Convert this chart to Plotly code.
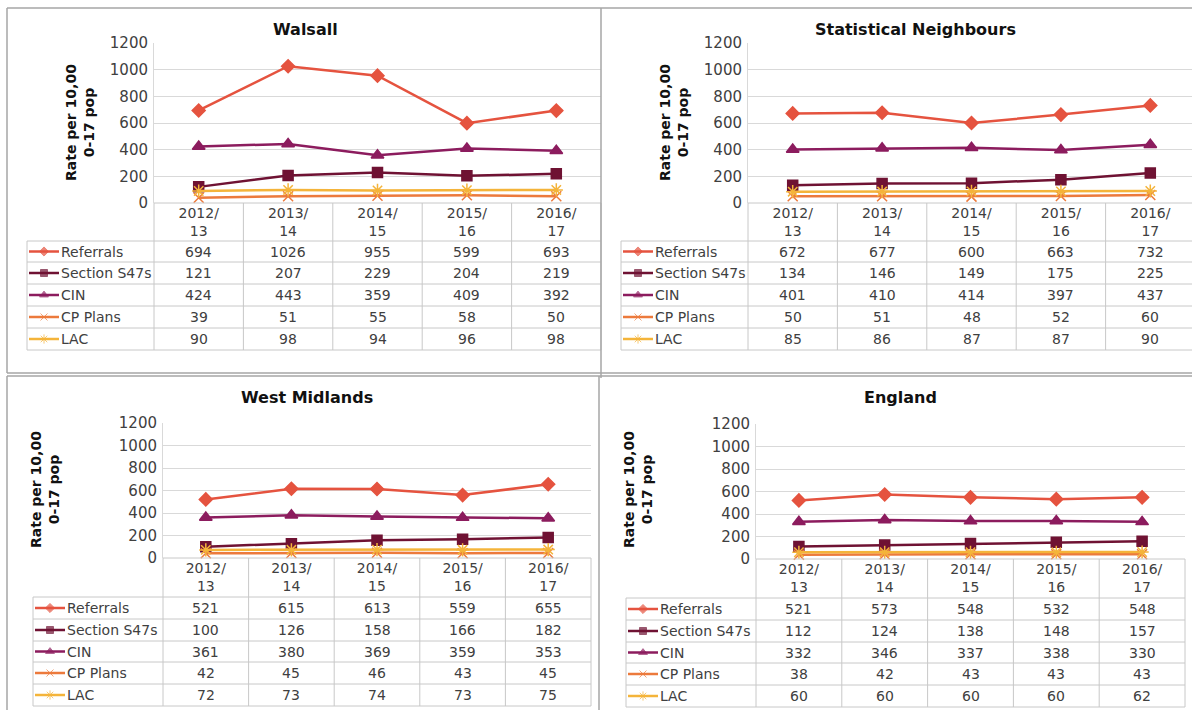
import plotly.graph_objects as go

W, H = 1192, 710

years = ["2012/<br>13", "2013/<br>14", "2014/<br>15", "2015/<br>16", "2016/<br>17"]
series_names = ["Referrals", "Section S47s", "CIN", "CP Plans", "LAC"]

walsall_referrals = [694, 1026, 955, 599, 693]
walsall_s47 = [121, 207, 229, 204, 219]
walsall_cin = [424, 443, 359, 409, 392]
walsall_cp = [39, 51, 55, 58, 50]
walsall_lac = [90, 98, 94, 96, 98]

sn_referrals = [672, 677, 600, 663, 732]
sn_s47 = [134, 146, 149, 175, 225]
sn_cin = [401, 410, 414, 397, 437]
sn_cp = [50, 51, 48, 52, 60]
sn_lac = [85, 86, 87, 87, 90]

wm_referrals = [521, 615, 613, 559, 655]
wm_s47 = [100, 126, 158, 166, 182]
wm_cin = [361, 380, 369, 359, 353]
wm_cp = [42, 45, 46, 43, 45]
wm_lac = [72, 73, 74, 73, 75]

eng_referrals = [521, 573, 548, 532, 548]
eng_s47 = [112, 124, 138, 148, 157]
eng_cin = [332, 346, 337, 338, 330]
eng_cp = [38, 42, 43, 43, 43]
eng_lac = [60, 60, 60, 60, 62]

# line colour, marker symbol, marker size per series
styles = {
    "Referrals": ("#E5533F", "diamond", 10),
    "Section S47s": ("#6F1233", "square", 10),
    "CIN": ("#8C1C5E", "triangle-up", 11),
    "CP Plans": ("#EC7A3C", "x-thin-open", 10),
    "LAC": ("#F4B43A", "asterisk-open", 11),
}

# pixel layout of each panel: plot box, table rows, legend column left edge
panels = [
    dict(title="Walsall", data=[walsall_referrals, walsall_s47, walsall_cin, walsall_cp, walsall_lac],
         x0=154, x1=601, ytop=43, ybot=203,
         rows=[241, 262, 284, 306, 328, 350], legl=27, tx=305, ty=30, yt=(80, 123)),
    dict(title="Statistical Neighbours", data=[sn_referrals, sn_s47, sn_cin, sn_cp, sn_lac],
         x0=748, x1=1195, ytop=43, ybot=203,
         rows=[241, 262, 284, 306, 328, 350], legl=621, tx=915, ty=30, yt=(674, 123)),
    dict(title="West Midlands", data=[wm_referrals, wm_s47, wm_cin, wm_cp, wm_lac],
         x0=163, x1=591, ytop=423, ybot=558,
         rows=[597, 619, 641, 662, 684, 706], legl=33, tx=307, ty=397, yt=(45, 490)),
    dict(title="England", data=[eng_referrals, eng_s47, eng_cin, eng_cp, eng_lac],
         x0=756, x1=1185, ytop=424, ybot=559,
         rows=[598, 620, 642, 663, 685, 707], legl=626, tx=900, ty=397, yt=(638, 490)),
]

FONT = "DejaVu Sans"
GRID = "#D9D9D9"
TABLE = "#C8C8C8"
BORDER = "#A6A6A6"
TEXT = "#404040"


def px(x):
    return x / W


def py(y):
    return 1 - y / H


def label(x, y, text, size=14, color=TEXT, xref="paper", xanchor="center", **kw):
    return dict(x=x, y=y, xref=xref, yref="paper", text=text, showarrow=False,
                xanchor=xanchor, yanchor="middle",
                font=dict(family=FONT, size=size, color=color), **kw)


fig = go.Figure()
shapes = []
annotations = []

for k, p in enumerate(panels, start=1):
    xa = "x" if k == 1 else f"x{k}"
    ya = "y" if k == 1 else f"y{k}"
    colw = (p["x1"] - p["x0"]) / 5
    xr = min(p["x1"], W)
    fig.update_layout(**{
        f"xaxis{'' if k == 1 else k}": dict(
            domain=[px(p["x0"]), px(xr)], range=[-0.5, -0.5 + (xr - p["x0"]) / colw],
            anchor=ya, tickmode="array", tickvals=list(range(5)), ticktext=years,
            showgrid=False, zeroline=False, showline=False, ticks="",
            tickfont=dict(family=FONT, size=14, color=TEXT), fixedrange=True),
        f"yaxis{'' if k == 1 else k}": dict(
            domain=[py(p["ybot"]), py(p["ytop"])], range=[0, 1200], dtick=200,
            anchor=xa, showgrid=True, gridcolor=GRID, gridwidth=1, zeroline=False,
            showline=True, linecolor=GRID, ticks="", ticklabelstandoff=2,
            tickfont=dict(family=FONT, size=15, color=TEXT), fixedrange=True),
    })
    for name, vals in zip(series_names, p["data"]):
        col, sym, size = styles[name]
        fig.add_trace(go.Scatter(
            x=list(range(5)), y=vals, mode="lines+markers", name=name, showlegend=False,
            line=dict(color=col, width=2.5),
            marker=dict(symbol=sym, size=size, color=col, line=dict(color=col, width=1.5)),
            xaxis=xa, yaxis=ya, cliponaxis=False))

    # panel title and y-axis title
    annotations.append(label(px(p["tx"]), py(p["ty"]), f"<b>{p['title']}</b>", size=16, color="#111111"))
    annotations.append(label(px(p["yt"][0]), py(p["yt"][1]), "<b>Rate per 10,00<br>0-17 pop</b>",
                             size=14, color="#111111", textangle=-90))

    # data table beneath the plot
    rows = p["rows"]
    right = xr
    shapes.append(dict(type="line", xref="paper", yref="paper", x0=px(p["x0"]), x1=px(right),
                       y0=py(p["ybot"]), y1=py(p["ybot"]), line=dict(color=TABLE, width=1)))
    for r in rows:
        shapes.append(dict(type="line", xref="paper", yref="paper", x0=px(p["legl"]), x1=px(right),
                           y0=py(r), y1=py(r), line=dict(color=TABLE, width=1)))
    shapes.append(dict(type="line", xref="paper", yref="paper", x0=px(p["legl"]), x1=px(p["legl"]),
                       y0=py(rows[0]), y1=py(rows[-1]), line=dict(color=TABLE, width=1)))
    for c in range(6):
        cx = p["x0"] + c * colw
        if cx > W:
            continue
        shapes.append(dict(type="line", xref="paper", yref="paper", x0=px(cx), x1=px(cx),
                           y0=py(p["ybot"]), y1=py(rows[-1]), line=dict(color=TABLE, width=1)))

    for j, (name, vals) in enumerate(zip(series_names, p["data"])):
        col, sym, size = styles[name]
        yc = (rows[j] + rows[j + 1]) / 2
        annotations.append(label(px(p["legl"] + 32), py(yc), name, xanchor="left"))
        for i, v in enumerate(vals):
            annotations.append(label(i, py(yc), str(v), xref=xa))
        # legend key: short line with marker in the middle
        kx = [p["legl"] + 2, p["legl"] + 17, p["legl"] + 32]
        fig.add_trace(go.Scatter(
            x=kx, y=[yc] * 3, mode="lines+markers", showlegend=False, hoverinfo="skip",
            line=dict(color=col, width=2.5),
            marker=dict(symbol=sym, size=[0, size * 0.7, 0], color=col, line=dict(color=col, width=1)),
            xaxis="x5", yaxis="y5"))

# pixel-space overlay used for the table legend keys
fig.update_layout(
    xaxis5=dict(domain=[0, 1], range=[0, W], visible=False, anchor="y5", fixedrange=True),
    yaxis5=dict(domain=[0, 1], range=[H, 0], visible=False, anchor="x5", fixedrange=True),
)

# panel frames
frame = dict(color=BORDER, width=1.5)
shapes += [
    dict(type="line", xref="paper", yref="paper", x0=px(7), x1=1, y0=py(8), y1=py(8), line=frame),
    dict(type="line", xref="paper", yref="paper", x0=px(7), x1=px(7), y0=py(8), y1=py(373), line=frame),
    dict(type="line", xref="paper", yref="paper", x0=px(7), x1=1, y0=py(373), y1=py(373), line=frame),
    dict(type="line", xref="paper", yref="paper", x0=px(601), x1=px(601), y0=py(8), y1=py(378), line=frame),
    dict(type="line", xref="paper", yref="paper", x0=px(7), x1=1, y0=py(376), y1=py(376), line=frame),
    dict(type="line", xref="paper", yref="paper", x0=px(7), x1=px(7), y0=py(376), y1=0, line=frame),
    dict(type="line", xref="paper", yref="paper", x0=px(599), x1=px(599), y0=py(376), y1=0, line=frame),
]

fig.update_layout(
    width=W, height=H, margin=dict(l=0, r=0, t=0, b=0, pad=0, autoexpand=False),
    paper_bgcolor="white", plot_bgcolor="rgba(0,0,0,0)",
    shapes=shapes, annotations=annotations, showlegend=False,
)

fig.write_html("out.html")
